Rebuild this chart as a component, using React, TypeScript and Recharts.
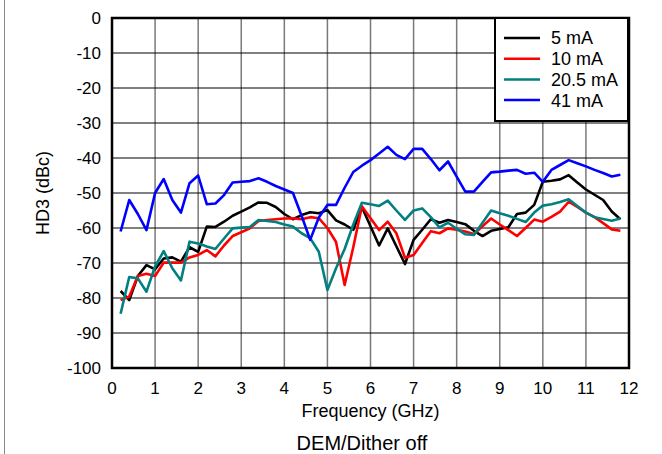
import React from 'react';
import { LineChart, Line, XAxis, YAxis, CartesianGrid, ReferenceArea, Label } from 'recharts';

const FREQ_GHZ = [
  0.2, 0.4, 0.6, 0.8, 1.0, 1.2, 1.4, 1.6, 1.8, 2.0,
  2.2, 2.4, 2.6, 2.8, 3.0, 3.2, 3.4, 3.6, 3.8, 4.0,
  4.2, 4.4, 4.6, 4.8, 5.0, 5.2, 5.4, 5.6, 5.8, 6.0,
  6.2, 6.4, 6.6, 6.8, 7.0, 7.2, 7.4, 7.6, 7.8, 8.0,
  8.2, 8.4, 8.6, 8.8, 9.0, 9.2, 9.4, 9.6, 9.8, 10.0,
  10.2, 10.4, 10.6, 10.8, 11.0, 11.2, 11.4, 11.6, 11.8,
];

const HD3_5MA = [
  -78, -80.6, -73.7, -70.6, -71.8, -68.7, -68.4, -69.6, -65.5, -66.8,
  -59.6, -59.7, -58.2, -56.5, -55.3, -54.1, -52.7, -52.8, -54, -56,
  -57.5, -56.3, -55.5, -55.8, -54.9, -57.8, -59, -60.5, -54, -59.5,
  -65, -60.1, -65.2, -70.3, -63.4, -60.5, -57.5, -58.5, -57.7, -58.3,
  -58.9, -60.8, -62.3, -60.8, -60.3, -59.8, -56, -55.6, -53.4, -46.8,
  -46.5, -46.1, -44.9, -47, -49, -50.5, -52, -55.3, -57.5,
];

const HD3_10MA = [
  -80.6, -79.6, -73.7, -73.1, -73.7, -69.9, -69.9, -69.9, -68.4, -67.7,
  -66.3, -68.1, -65, -62.3, -61.2, -60.1, -58, -57.7, -57.5, -57.3,
  -57.2, -57.5, -56.9, -57.2, -60, -64, -76.3, -65.5, -53.8, -57.2,
  -60.6, -58.2, -61.5, -68.5, -67.7, -64.3, -60.9, -61.5, -60.1, -60.5,
  -61, -61.7, -59.5, -57.3, -59, -60.6, -62.3, -60, -57.6, -58.2,
  -56.8, -55.3, -52.5, -54, -55.6, -56.9, -58.6, -60.4, -60.8,
];

const HD3_20_5MA = [
  -84.5, -74, -74.4, -78.2, -71, -66.6, -71.5, -75, -63.9, -64.4,
  -65.3, -66, -63, -60.1, -59.9, -59.7, -57.7, -58, -58.3, -59,
  -59.6, -61.5, -62.9, -66.8, -77.7, -71.5, -66, -59, -52.8, -53.2,
  -53.7, -52.2, -55, -57.7, -55, -54.4, -56.9, -59.8, -58.5, -60.2,
  -61.8, -62, -58.5, -55, -55.8, -56.5, -57.4, -58.3, -55.6, -53.6,
  -53.2, -52.6, -51.8, -53.7, -55.6, -56.9, -57.4, -57.9, -57.3,
];

const HD3_41MA = [
  -61, -52, -56, -60.6, -50, -46, -52, -55.6, -47.2, -45,
  -53.2, -53, -50.6, -47, -46.8, -46.6, -45.8, -46.8, -48, -49,
  -50, -56.5, -63.4, -57, -53.4, -53.4, -48.5, -44, -42.2, -40.6,
  -38.7, -36.8, -39.1, -40.3, -37.4, -37.4, -40.3, -43.5, -41, -45.3,
  -49.6, -49.6, -46.8, -44.1, -43.9, -43.6, -43.4, -44.5, -44.2, -46.8,
  -43.4, -42, -40.6, -41.5, -42.4, -43.4, -44.3, -45.3, -44.8,
];

const X_TICKS = [0, 1, 2, 3, 4, 5, 6, 7, 8, 9, 10, 11, 12];
const Y_TICKS = [-100, -90, -80, -70, -60, -50, -40, -30, -20, -10, 0];

const SERIES = [
  { key: 'ma5', name: '5 mA', color: '#000000', values: HD3_5MA },
  { key: 'ma10', name: '10 mA', color: '#ff0000', values: HD3_10MA },
  { key: 'ma20', name: '20.5 mA', color: '#008080', values: HD3_20_5MA },
  { key: 'ma41', name: '41 mA', color: '#0000ff', values: HD3_41MA },
];

const data = FREQ_GHZ.map((f, i) => {
  const row: Record<string, number> = { f };
  SERIES.forEach((s) => {
    row[s.key] = s.values[i];
  });
  return row;
});

const FONT = '"Liberation Sans", Arial, sans-serif';

export default function App() {
  return (
    <div
      style={{
        position: 'absolute',
        left: 0,
        top: 0,
        width: 662,
        height: 454,
        background: '#ffffff',
        fontFamily: FONT,
        overflow: 'hidden',
      }}
    >
      <div style={{ position: 'absolute', left: 4, top: 0, width: 1, height: 454, background: '#8a8a8a' }} />
      <LineChart
        width={662}
        height={454}
        data={data}
        margin={{ top: 18, right: 33, bottom: 36, left: 12 }}
        style={{ fontFamily: FONT }}
      >
        <CartesianGrid horizontal={false} stroke="#7a7a7a" strokeWidth={1.5} verticalValues={X_TICKS} />
        <CartesianGrid vertical={false} stroke="#000000" strokeWidth={1} horizontalValues={Y_TICKS} />
        <XAxis
          type="number"
          dataKey="f"
          domain={[0, 12]}
          ticks={X_TICKS}
          allowDataOverflow
          axisLine={false}
          tickLine={false}
          tickSize={0}
          tickMargin={14}
          height={50}
          tick={{ fontSize: 17, fill: '#000000', fontFamily: FONT }}
        >
          <Label value="Frequency (GHz)" position="insideBottom" offset={1} style={{ fontSize: 18, fill: '#000000', fontFamily: FONT }} />
        </XAxis>
        <YAxis
          type="number"
          domain={[-100, 0]}
          ticks={Y_TICKS}
          allowDataOverflow
          axisLine={false}
          tickLine={false}
          tickSize={0}
          tickMargin={11}
          width={100}
          tick={{ fontSize: 17, fill: '#000000', fontFamily: FONT }}
        >
          <Label
            value="HD3 (dBc)"
            angle={-90}
            position="insideLeft"
            offset={31}
            style={{ fontSize: 18, fill: '#000000', fontFamily: FONT, textAnchor: 'middle' }}
          />
        </YAxis>
        {SERIES.map((s) => (
          <Line
            key={s.key}
            type="linear"
            dataKey={s.key}
            name={s.name}
            stroke={s.color}
            strokeWidth={2.6}
            strokeLinejoin="round"
            dot={false}
            activeDot={false}
            isAnimationActive={false}
          />
        ))}
        <ReferenceArea x1={0} x2={12} y1={-100} y2={0} fill="none" fillOpacity={0} stroke="#000000" strokeWidth={2.5} ifOverflow="visible" />
      </LineChart>
      <div
        style={{
          position: 'absolute',
          left: 494,
          top: 17,
          width: 135,
          height: 105,
          boxSizing: 'border-box',
          border: '2.5px solid #000000',
          background: '#ffffff',
        }}
      >
        <svg width={135} height={105} style={{ position: 'absolute', left: -2.5, top: -2.5 }}>
          {SERIES.map((s, i) => (
            <g key={s.key}>
              <line x1={10} x2={46} y1={21 + i * 20.7} y2={21 + i * 20.7} stroke={s.color} strokeWidth={2.5} />
              <text x={57} y={21 + i * 20.7 + 6.4} fontSize={18} fontFamily={FONT} fill="#000000">
                {s.name}
              </text>
            </g>
          ))}
        </svg>
      </div>
      <div
        style={{
          position: 'absolute',
          left: 212,
          top: 432,
          width: 300,
          textAlign: 'center',
          fontSize: 20,
          lineHeight: '22px',
          color: '#000000',
          fontFamily: FONT,
        }}
      >
        DEM/Dither off
      </div>
    </div>
  );
}
